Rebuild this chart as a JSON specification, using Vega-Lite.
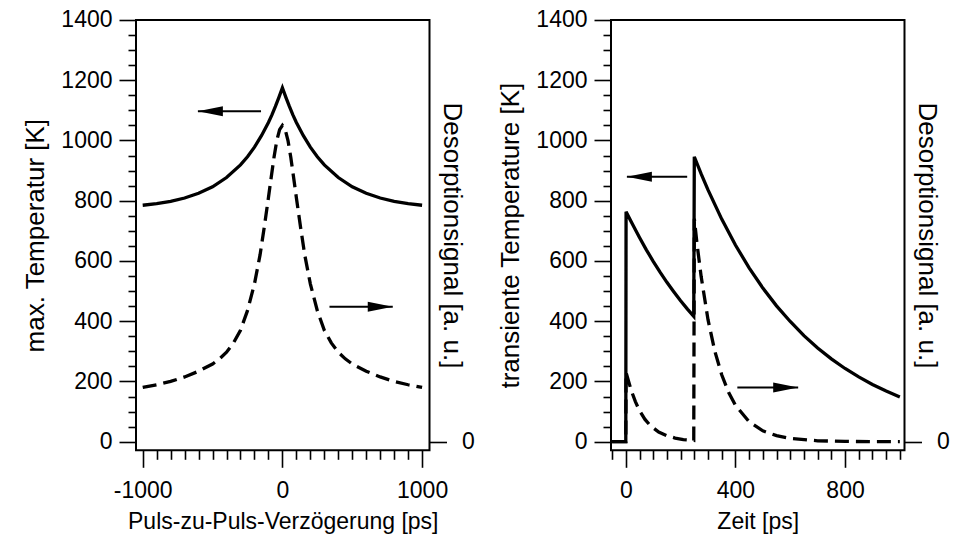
{
  "$schema": "https://vega.github.io/schema/vega-lite/v6.json",
  "padding": {"left": 21, "top": 8, "right": 0, "bottom": 3},
  "background": "white",
  "config": {
    "view": {"stroke": "black", "strokeWidth": 2},
    "axis": {"domain": false, "grid": false, "tickColor": "black", "tickWidth": 1.6, "labelFont": "Liberation Sans", "labelFontSize": 23, "labelColor": "black", "titleFont": "Liberation Sans", "titleFontSize": 23, "titleFontWeight": "normal", "titleColor": "black", "labelFlush": false, "labelOverlap": false, "labelExpr": "'' + datum.value"},
    "concat": {"spacing": 20}
  },
  "datasets": {
    "leftT": [
      {"x": -1000, "y": 785}, {"x": -900, "y": 790}, {"x": -800, "y": 798}, {"x": -700, "y": 809}, {"x": -600, "y": 825}, {"x": -500, "y": 846}, {"x": -400, "y": 877}, {"x": -300, "y": 919}, {"x": -250, "y": 946}, {"x": -200, "y": 978}, {"x": -150, "y": 1016}, {"x": -100, "y": 1060}, {"x": -75, "y": 1085}, {"x": -50, "y": 1113}, {"x": -25, "y": 1143}, {"x": 0, "y": 1175},
      {"x": 25, "y": 1143}, {"x": 50, "y": 1113}, {"x": 75, "y": 1085}, {"x": 100, "y": 1060}, {"x": 150, "y": 1016}, {"x": 200, "y": 978}, {"x": 250, "y": 946}, {"x": 300, "y": 919}, {"x": 400, "y": 877}, {"x": 500, "y": 846}, {"x": 600, "y": 825}, {"x": 700, "y": 809}, {"x": 800, "y": 798}, {"x": 900, "y": 790}, {"x": 1000, "y": 785}
    ],
    "leftS": [
      {"x": -1000, "y": 180}, {"x": -900, "y": 189}, {"x": -800, "y": 200}, {"x": -700, "y": 215}, {"x": -600, "y": 234}, {"x": -500, "y": 258}, {"x": -450, "y": 275}, {"x": -400, "y": 297}, {"x": -350, "y": 328}, {"x": -300, "y": 370}, {"x": -250, "y": 435}, {"x": -200, "y": 524}, {"x": -160, "y": 620}, {"x": -130, "y": 712}, {"x": -100, "y": 810}, {"x": -80, "y": 878}, {"x": -60, "y": 944}, {"x": -40, "y": 1000}, {"x": -20, "y": 1036}, {"x": 0, "y": 1050},
      {"x": 20, "y": 1036}, {"x": 40, "y": 1000}, {"x": 60, "y": 944}, {"x": 80, "y": 878}, {"x": 100, "y": 810}, {"x": 130, "y": 712}, {"x": 160, "y": 620}, {"x": 200, "y": 524}, {"x": 250, "y": 435}, {"x": 300, "y": 370}, {"x": 350, "y": 328}, {"x": 400, "y": 297}, {"x": 450, "y": 275}, {"x": 500, "y": 258}, {"x": 600, "y": 234}, {"x": 700, "y": 215}, {"x": 800, "y": 200}, {"x": 900, "y": 189}, {"x": 1000, "y": 180}
    ],
    "leftArrows": [
      {"x1": -153, "x2": -605, "y": 1097, "dir": "left"},
      {"x1": 337, "x2": 790, "y": 448, "dir": "right"}
    ],
    "rightT": [
      {"x": -50, "y": 0}, {"x": 0, "y": 0}, {"x": 1, "y": 763}, {"x": 25, "y": 721}, {"x": 50, "y": 678}, {"x": 75, "y": 637}, {"x": 100, "y": 599}, {"x": 125, "y": 563}, {"x": 150, "y": 529}, {"x": 175, "y": 498}, {"x": 200, "y": 468}, {"x": 225, "y": 440}, {"x": 248, "y": 416},
      {"x": 250, "y": 946}, {"x": 275, "y": 889}, {"x": 300, "y": 836}, {"x": 350, "y": 739}, {"x": 400, "y": 653}, {"x": 450, "y": 577}, {"x": 500, "y": 510}, {"x": 550, "y": 451}, {"x": 600, "y": 399}, {"x": 650, "y": 352}, {"x": 700, "y": 311}, {"x": 750, "y": 275}, {"x": 800, "y": 243}, {"x": 850, "y": 215}, {"x": 900, "y": 190}, {"x": 950, "y": 168}, {"x": 1000, "y": 148}
    ],
    "rightS": [
      {"x": -50, "y": 0}, {"x": 0, "y": 0}, {"x": 1, "y": 230}, {"x": 10, "y": 201}, {"x": 20, "y": 170}, {"x": 35, "y": 133}, {"x": 50, "y": 103}, {"x": 70, "y": 74}, {"x": 90, "y": 53}, {"x": 120, "y": 32}, {"x": 150, "y": 20}, {"x": 180, "y": 12}, {"x": 210, "y": 7}, {"x": 248, "y": 4},
      {"x": 250, "y": 740}, {"x": 260, "y": 656}, {"x": 275, "y": 548}, {"x": 300, "y": 405}, {"x": 325, "y": 300}, {"x": 350, "y": 222}, {"x": 375, "y": 164}, {"x": 400, "y": 121}, {"x": 450, "y": 66}, {"x": 500, "y": 36}, {"x": 550, "y": 20}, {"x": 600, "y": 11}, {"x": 700, "y": 3}, {"x": 800, "y": 1}, {"x": 900, "y": 0}, {"x": 1000, "y": 0}
    ],
    "rightArrows": [
      {"x1": 224, "x2": 4, "y": 880, "dir": "left"},
      {"x1": 407, "x2": 629, "y": 180, "dir": "right"}
    ]
  },
  "hconcat": [
    {
      "width": 293.5,
      "height": 430.3,
      "resolve": {"axis": {"x": "independent", "y": "independent"}},
      "layer": [
        {
          "data": {"name": "leftT"},
          "mark": {"type": "line", "color": "black", "strokeWidth": 3.3},
          "encoding": {
            "x": {"field": "x", "type": "quantitative", "scale": {"domain": [-1048, 1053], "nice": false, "zero": false},
              "axis": {"orient": "bottom", "values": [-1000, 0, 1000], "tickSize": 17, "labelPadding": 12, "title": "Puls-zu-Puls-Verzögerung [ps]", "titlePadding": 8}},
            "y": {"field": "y", "type": "quantitative", "scale": {"domain": [-28.6, 1400], "nice": false, "zero": false},
              "axis": {"orient": "left", "values": [0, 200, 400, 600, 800, 1000, 1200, 1400], "tickSize": 17, "labelPadding": 7, "title": "max. Temperatur [K]", "titleFontSize": 26, "titlePadding": 12}}
          }
        },
        {
          "data": {"name": "leftS"},
          "mark": {"type": "line", "color": "black", "strokeWidth": 3.3, "strokeDash": [14, 7]},
          "encoding": {
            "x": {"field": "x", "type": "quantitative", "scale": {"domain": [-1048, 1053], "nice": false, "zero": false},
              "axis": {"orient": "bottom", "values": [-900, -800, -700, -600, -500, -400, -300, -200, -100, 100, 200, 300, 400, 500, 600, 700, 800, 900], "tickSize": 9, "labels": false, "title": null}},
            "y": {"field": "y", "type": "quantitative", "scale": {"domain": [-28.6, 1400], "nice": false, "zero": false},
              "axis": {"orient": "left", "values": [50, 100, 150, 250, 300, 350, 450, 500, 550, 650, 700, 750, 850, 900, 950, 1050, 1100, 1150, 1250, 1300, 1350], "tickSize": 8, "labels": false, "title": null}}
          }
        },
        {
          "data": {"name": "leftArrows"},
          "mark": {"type": "rule", "color": "black", "strokeWidth": 2},
          "encoding": {
            "x": {"field": "x1", "type": "quantitative", "scale": {"domain": [-1048, 1053], "nice": false, "zero": false}, "axis": null},
            "x2": {"field": "x2"},
            "y": {"field": "y", "type": "quantitative", "scale": {"domain": [-28.6, 1400], "nice": false, "zero": false},
              "axis": {"orient": "right", "values": [0], "tickSize": 17, "labelPadding": 15, "title": "Desorptionsignal [a. u.]", "titleFontSize": 26, "titleAngle": 90, "titleX": 9, "titleY": 215, "titleBaseline": "bottom", "titleAlign": "center"}}
          }
        },
        {
          "data": {"name": "leftArrows"},
          "mark": {"type": "point", "filled": true, "color": "black", "opacity": 1, "size": 625, "strokeWidth": 0},
          "encoding": {
            "x": {"field": "x2", "type": "quantitative", "scale": {"domain": [-1048, 1053], "nice": false, "zero": false}, "axis": null},
            "y": {"field": "y", "type": "quantitative", "scale": {"domain": [-28.6, 1400], "nice": false, "zero": false}, "axis": null},
            "shape": {"field": "dir", "type": "nominal", "scale": {"domain": ["left", "right"], "range": ["M0,0L2,-0.4L2,0.4Z", "M0,0L-2,-0.4L-2,0.4Z"]}, "legend": null}
          }
        }
      ]
    },
    {
      "width": 293.5,
      "height": 430.3,
      "resolve": {"axis": {"x": "independent", "y": "independent"}},
      "layer": [
        {
          "data": {"name": "rightT"},
          "mark": {"type": "line", "color": "black", "strokeWidth": 3.3},
          "encoding": {
            "x": {"field": "x", "type": "quantitative", "scale": {"domain": [-54, 1017], "nice": false, "zero": false},
              "axis": {"orient": "bottom", "values": [0, 400, 800], "tickSize": 17, "labelPadding": 12, "title": "Zeit [ps]", "titlePadding": 8}},
            "y": {"field": "y", "type": "quantitative", "scale": {"domain": [-28.6, 1400], "nice": false, "zero": false},
              "axis": {"orient": "left", "values": [0, 200, 400, 600, 800, 1000, 1200, 1400], "tickSize": 17, "labelPadding": 7, "title": "transiente Temperature [K]", "titleFontSize": 26, "titlePadding": 12}}
          }
        },
        {
          "data": {"name": "rightS"},
          "mark": {"type": "line", "color": "black", "strokeWidth": 3.3, "strokeDash": [14, 7]},
          "encoding": {
            "x": {"field": "x", "type": "quantitative", "scale": {"domain": [-54, 1017], "nice": false, "zero": false},
              "axis": {"orient": "bottom", "values": [-50, 50, 100, 150, 200, 250, 300, 350, 450, 500, 550, 600, 650, 700, 750, 850, 900, 950, 1000], "tickSize": 9, "labels": false, "title": null}},
            "y": {"field": "y", "type": "quantitative", "scale": {"domain": [-28.6, 1400], "nice": false, "zero": false},
              "axis": {"orient": "left", "values": [50, 100, 150, 250, 300, 350, 450, 500, 550, 650, 700, 750, 850, 900, 950, 1050, 1100, 1150, 1250, 1300, 1350], "tickSize": 8, "labels": false, "title": null}}
          }
        },
        {
          "data": {"name": "rightArrows"},
          "mark": {"type": "rule", "color": "black", "strokeWidth": 2},
          "encoding": {
            "x": {"field": "x1", "type": "quantitative", "scale": {"domain": [-54, 1017], "nice": false, "zero": false}, "axis": null},
            "x2": {"field": "x2"},
            "y": {"field": "y", "type": "quantitative", "scale": {"domain": [-28.6, 1400], "nice": false, "zero": false},
              "axis": {"orient": "right", "values": [0], "tickSize": 17, "labelPadding": 15, "title": "Desorptionsignal [a. u.]", "titleFontSize": 26, "titleAngle": 90, "titleX": 9, "titleY": 215, "titleBaseline": "bottom", "titleAlign": "center"}}
          }
        },
        {
          "data": {"name": "rightArrows"},
          "mark": {"type": "point", "filled": true, "color": "black", "opacity": 1, "size": 625, "strokeWidth": 0},
          "encoding": {
            "x": {"field": "x2", "type": "quantitative", "scale": {"domain": [-54, 1017], "nice": false, "zero": false}, "axis": null},
            "y": {"field": "y", "type": "quantitative", "scale": {"domain": [-28.6, 1400], "nice": false, "zero": false}, "axis": null},
            "shape": {"field": "dir", "type": "nominal", "scale": {"domain": ["left", "right"], "range": ["M0,0L2,-0.4L2,0.4Z", "M0,0L-2,-0.4L-2,0.4Z"]}, "legend": null}
          }
        }
      ]
    }
  ]
}
